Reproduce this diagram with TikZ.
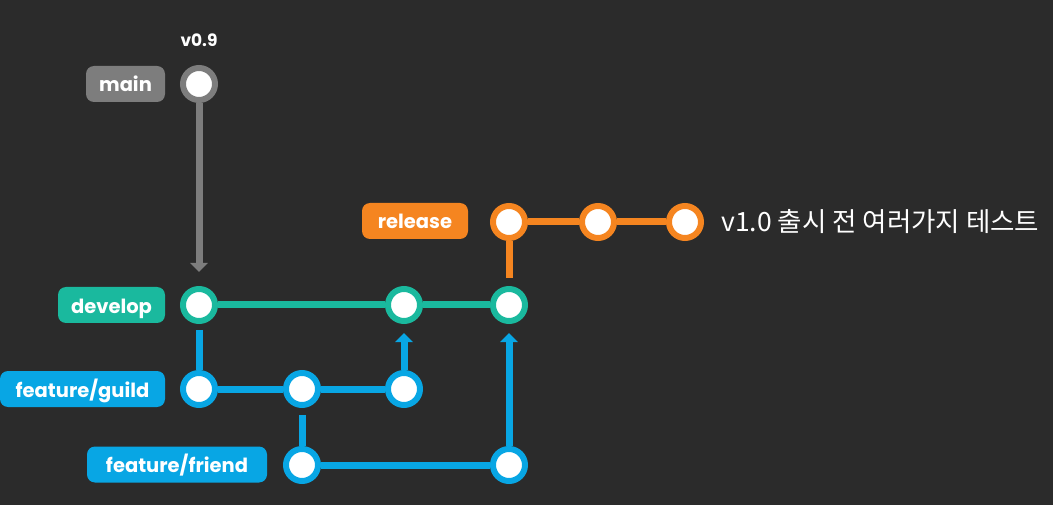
\documentclass[tikz,border=0pt]{standalone}
\usepackage{fontspec}
\setmainfont{Poppins}
\newfontfamily\krfont{Noto Sans CJK KR}
\usetikzlibrary{arrows.meta}
\definecolor{bg}{RGB}{43,43,43}
\definecolor{cgray}{RGB}{125,125,125}
\definecolor{cteal}{RGB}{26,185,158}
\definecolor{cblue}{RGB}{8,166,228}
\definecolor{corange}{RGB}{245,133,32}
\tikzset{
  commit/.style={circle, draw=#1, line width=6pt, fill=white, minimum size=32pt, inner sep=0pt},
  branchlabel/.style={rounded corners=8pt, fill=#1, text=white, font=\bfseries\fontsize{19.5}{19.5}\selectfont, minimum height=36pt, inner sep=0pt, text height=19pt, text depth=3pt},
  link/.style={draw=#1, line width=7pt},
  tip/.style={-{Triangle[length=9pt,width=17pt]}},
}
\begin{document}
\begin{tikzpicture}[x=1pt,y=-1pt]
\fill[bg] (0,0) rectangle (1053,505);
\useasboundingbox (0,0) rectangle (1053,505);
% labels
\node[branchlabel=cgray, minimum width=79pt] (lmain) at (125.5,84) {main};
\node[branchlabel=cteal, minimum width=107pt] (ldev) at (111.5,305) {develop};
\node[branchlabel=cblue, minimum width=165pt] (lguild) at (82.5,389) {feature/guild};
\node[branchlabel=cblue, minimum width=180pt] (lfriend) at (177,464.5) {feature/friend};
\node[branchlabel=corange, minimum width=106pt] (lrel) at (415,221) {release};
% commits
\node[commit=cgray] (m) at (199,84) {};
\node[commit=cteal] (d1) at (199,305) {};
\node[commit=cteal] (d2) at (404,305) {};
\node[commit=cteal] (d3) at (509,305) {};
\node[commit=cblue] (g1) at (199,389) {};
\node[commit=cblue] (g2) at (302,389) {};
\node[commit=cblue] (g3) at (404,389) {};
\node[commit=cblue] (f1) at (302,465) {};
\node[commit=cblue] (f2) at (509,465) {};
\node[commit=corange] (r1) at (509,222) {};
\node[commit=corange] (r2) at (598,222) {};
\node[commit=corange] (r3) at (685,222) {};
% texts
\node[text=white, font=\bfseries\fontsize{17}{17}\selectfont] (v09) at (199,40) {v0.9};
\node[text=white, anchor=west, inner sep=0pt, font=\krfont\fontsize{26.5}{26.5}\selectfont] (desc) at (721,222) {v1.0 출시 전 여러가지 테스트};
% links
\draw[link=cgray, tip, shorten >=14pt] (m) -- (d1);
\draw[link=cteal] (d1) -- (d2);
\draw[link=cteal] (d2) -- (d3);
\draw[link=cblue, shorten <=6pt] (d1) -- (g1);
\draw[link=cblue] (g1) -- (g2);
\draw[link=cblue] (g2) -- (g3);
\draw[link=cblue, tip, shorten >=9pt] (g3) -- (d2);
\draw[link=cblue, shorten <=7pt] (g2) -- (f1);
\draw[link=cblue] (f1) -- (f2);
\draw[link=cblue, tip, shorten >=9pt] (f2) -- (d3);
\draw[link=corange, shorten >=8pt] (r1) -- (d3);
\draw[link=corange] (r1) -- (r2);
\draw[link=corange] (r2) -- (r3);
\end{tikzpicture}
\end{document}
